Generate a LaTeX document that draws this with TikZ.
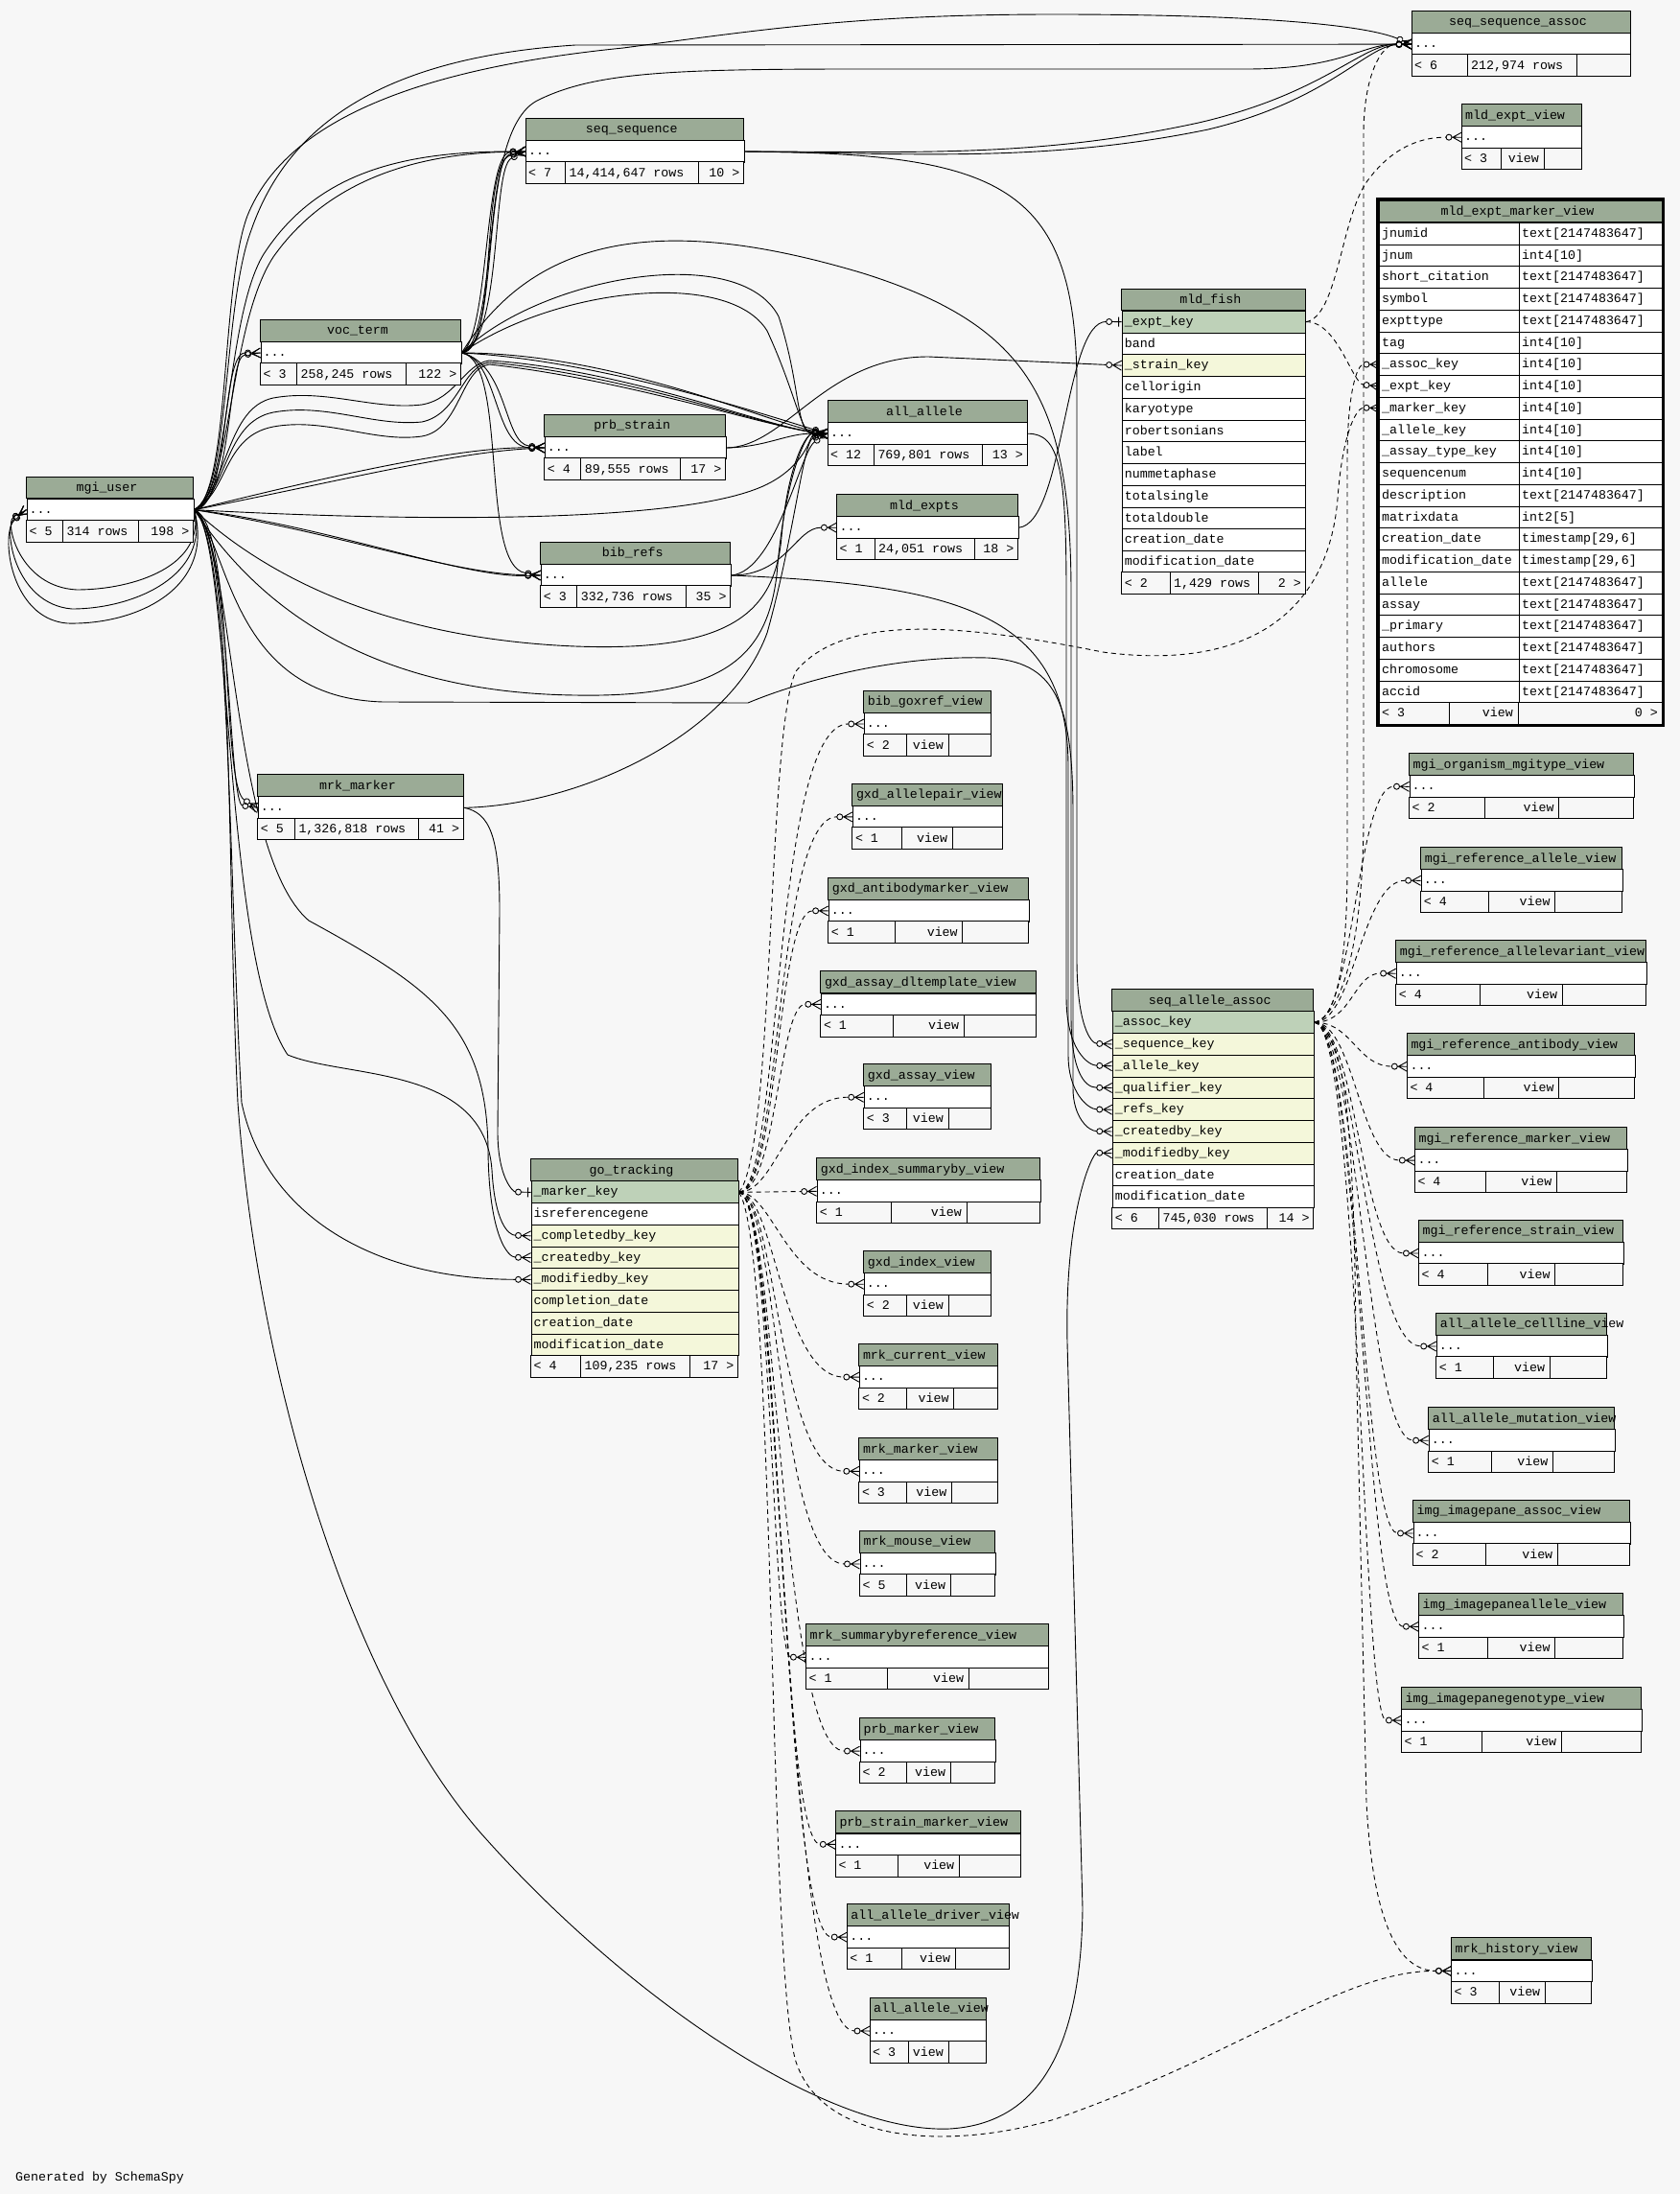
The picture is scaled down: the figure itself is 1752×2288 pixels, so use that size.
\documentclass[tikz,border=0pt]{standalone}
\usepackage{fontspec}
\setmainfont{Liberation Mono}
\usepackage{tikz}

\definecolor{bgcol}{HTML}{F7F7F7}
\definecolor{hdrcol}{HTML}{9BAB96}
\definecolor{pkcol}{HTML}{BED1B8}
\definecolor{fkcol}{HTML}{F4F7DA}

\pgfdeclarelayer{back}
\pgfdeclarelayer{wires}
\pgfsetlayers{back,wires,main}

% crow's foot with a ring (zero or many)
\pgfdeclarearrow{
  name = crowo,
  setup code = {
    \pgfarrowssettipend{0pt}
    \pgfarrowssetlineend{-16pt}
    \pgfarrowssetbackend{-16.5pt}
    \pgfarrowshullpoint{0pt}{5pt}
    \pgfarrowshullpoint{0pt}{-5pt}
    \pgfarrowshullpoint{-16.5pt}{0pt}
  },
  drawing code = {
    \pgfsetdash{}{0pt}
    \pgfpathmoveto{\pgfqpoint{-9pt}{0pt}}
    \pgfpathlineto{\pgfqpoint{0pt}{5pt}}
    \pgfpathmoveto{\pgfqpoint{-9pt}{0pt}}
    \pgfpathlineto{\pgfqpoint{0pt}{-5pt}}
    \pgfpathmoveto{\pgfqpoint{-10pt}{0pt}}
    \pgfpathlineto{\pgfqpoint{0pt}{0pt}}
    \pgfpathcircle{\pgfqpoint{-13pt}{0pt}}{3pt}
    \pgfusepathqstroke
  }
}
% bar with a ring (zero or one)
\pgfdeclarearrow{
  name = baro,
  setup code = {
    \pgfarrowssettipend{0pt}
    \pgfarrowssetlineend{-16pt}
    \pgfarrowssetbackend{-16.5pt}
    \pgfarrowshullpoint{0pt}{5pt}
    \pgfarrowshullpoint{0pt}{-5pt}
    \pgfarrowshullpoint{-16.5pt}{0pt}
  },
  drawing code = {
    \pgfsetdash{}{0pt}
    \pgfpathmoveto{\pgfqpoint{-10pt}{0pt}}
    \pgfpathlineto{\pgfqpoint{0pt}{0pt}}
    \pgfpathmoveto{\pgfqpoint{-3pt}{5pt}}
    \pgfpathlineto{\pgfqpoint{-3pt}{-5pt}}
    \pgfpathcircle{\pgfqpoint{-13pt}{0pt}}{3pt}
    \pgfusepathqstroke
  }
}

% table pieces (x1, x2, top in pixels)
\newcommand{\tblhead}[4]{%
  \draw[hdrbox] (#1,#3) rectangle (#2,#3+22.75);
  \node[txt, anchor=base] at ({(#1+#2)/2-3},#3+15.5) {#4};}
\newcommand{\viewhead}[4]{%
  \draw[hdrbox] (#1,#3) rectangle (#2,#3+22.75);
  \node[txt, anchor=base west] at (#1+4,#3+15.5) {#4};}
\newcommand{\tblrow}[6]{%
  \node[cell, #5, minimum width={#3-#2}] (#1) at (#2,#4) {};
  \node[txt, anchor=base west] at (#2+3,#4+15.5) {#6};}
\newcommand{\tblfoot}[8]{%
  \draw[footbox] (#1,#5) rectangle (#2,#5+22.75) (#2,#5) rectangle (#3,#5+22.75) (#3,#5) rectangle (#4,#5+22.75);
  \node[txt, anchor=base west] at (#1+3,#5+15.5) {#6};
  \node[txt, anchor=base west] at (#2+4,#5+15.5) {#7};
  \node[txt, anchor=base east] at (#4-4,#5+15.5) {#8};}
\newcommand{\viewfoot}[6]{%
  \draw[footbox] (#1,#5) rectangle (#2,#5+22.75) (#2,#5) rectangle (#3,#5+22.75) (#3,#5) rectangle (#4,#5+22.75);
  \node[txt, anchor=base west] at (#1+3,#5+15.5) {< #6};
  \node[txt, anchor=base east] at (#3-5,#5+15.5) {view};}
\newcommand{\viewbox}[8]{%
  \viewhead{#3}{#4}{#5}{#2}
  \tblrow{#1}{#3}{#4}{#5+22.75}{plainrow}{...}
  \viewfoot{#3}{#7}{#8}{#4}{#5+45.5}{#6}}
\newcommand{\mvrow}[4]{%
  \node[cell, plainrow, minimum width=145.6] (#1) at (1438,#2) {};
  \node[cell, plainrow, minimum width=149.4] (#1t) at (1583.6,#2) {};
  \node[txt, anchor=base west] at (1441,#2+15.5) {#3};
  \node[txt, anchor=base west] at (1587,#2+15.5) {#4};}

\begin{document}
\begin{tikzpicture}[x=1pt, y=-1pt, font=\fontsize{13.3}{16}\selectfont,
  hdrbox/.style={draw, fill=hdrcol, line width=1pt},
  footbox/.style={draw, fill=bgcol, line width=1pt},
  cell/.style={draw, line width=1pt, inner sep=0pt, minimum height=22.75pt, anchor=north west},
  plainrow/.style={fill=white},
  pkrow/.style={fill=pkcol},
  fkrow/.style={fill=fkcol},
  txt/.style={inner sep=0pt},
  fk/.style={line width=0.9pt, -crowo},
  one/.style={line width=0.9pt, -baro},
  ik/.style={line width=0.9pt, -crowo, dash pattern=on 5pt off 4pt}]

  \useasboundingbox (0,0) rectangle (1752,2288);
  \begin{pgfonlayer}{back}
    \fill[bgcol] (0,0) rectangle (1752,2288);
  \end{pgfonlayer}

  % Tables

  % seq_sequence_assoc
  \tblhead{1472}{1700}{11.5}{seq\_sequence\_assoc}
  \tblrow{sqas}{1472}{1700}{34.25}{plainrow}{...}
  \tblfoot{1472}{1530}{1644}{1700}{57}{< 6}{212,974 rows}{}

  % mld_expt_view
  \viewbox{mev}{mld\_expt\_view}{1524}{1649}{108.6}{3}{1565.5}{1610}

  % mld_expt_marker_view
  \draw[line width=3pt] (1436.5,207.5) rectangle (1734.5,756.5);
  \tblhead{1438}{1733}{209}{mld\_expt\_marker\_view}
  \mvrow{memv-1}{231.75}{jnumid}{text[2147483647]}
  \mvrow{memv-2}{254.5}{jnum}{int4[10]}
  \mvrow{memv-3}{277.25}{short\_citation}{text[2147483647]}
  \mvrow{memv-4}{300}{symbol}{text[2147483647]}
  \mvrow{memv-5}{322.75}{expttype}{text[2147483647]}
  \mvrow{memv-6}{345.5}{tag}{int4[10]}
  \mvrow{memv-7}{368.25}{\_assoc\_key}{int4[10]}
  \mvrow{memv-8}{391}{\_expt\_key}{int4[10]}
  \mvrow{memv-9}{413.75}{\_marker\_key}{int4[10]}
  \mvrow{memv-10}{436.5}{\_allele\_key}{int4[10]}
  \mvrow{memv-11}{459.25}{\_assay\_type\_key}{int4[10]}
  \mvrow{memv-12}{482}{sequencenum}{int4[10]}
  \mvrow{memv-13}{504.75}{description}{text[2147483647]}
  \mvrow{memv-14}{527.5}{matrixdata}{int2[5]}
  \mvrow{memv-15}{550.25}{creation\_date}{timestamp[29,6]}
  \mvrow{memv-16}{573}{modification\_date}{timestamp[29,6]}
  \mvrow{memv-17}{595.75}{allele}{text[2147483647]}
  \mvrow{memv-18}{618.5}{assay}{text[2147483647]}
  \mvrow{memv-19}{641.25}{\_primary}{text[2147483647]}
  \mvrow{memv-20}{664}{authors}{text[2147483647]}
  \mvrow{memv-21}{686.75}{chromosome}{text[2147483647]}
  \mvrow{memv-22}{709.5}{accid}{text[2147483647]}
  \draw[footbox] (1438,732.25) rectangle (1511.6,755) (1511.6,732.25) rectangle (1583.6,755) (1583.6,732.25) rectangle (1733,755);
  \node[txt, anchor=base west] at (1441,747.75) {< 3};
  \node[txt, anchor=base east] at (1578,747.75) {view};
  \node[txt, anchor=base east] at (1729,747.75) {0 >};

  % seq_sequence
  \tblhead{548}{775.5}{123.4}{seq\_sequence}
  \tblrow{seqs}{548}{775.5}{146.15}{plainrow}{...}
  \tblfoot{548}{589.5}{728.5}{775.5}{168.9}{< 7}{14,414,647 rows}{10 >}

  % voc_term
  \tblhead{271.5}{480.5}{333.4}{voc\_term}
  \tblrow{voct}{271.5}{480.5}{356.15}{plainrow}{...}
  \tblfoot{271.5}{309.4}{423.6}{480.5}{378.9}{< 3}{258,245 rows}{122 >}

  % mld_fish
  \tblhead{1169.6}{1361}{301}{mld\_fish}
  \tblrow{mldf-ek}{1169.6}{1361}{323.75}{pkrow}{\_expt\_key}
  \tblrow{mldf-2}{1169.6}{1361}{346.5}{plainrow}{band}
  \tblrow{mldf-sk}{1169.6}{1361}{369.25}{fkrow}{\_strain\_key}
  \tblrow{mldf-4}{1169.6}{1361}{392}{plainrow}{cellorigin}
  \tblrow{mldf-5}{1169.6}{1361}{414.75}{plainrow}{karyotype}
  \tblrow{mldf-6}{1169.6}{1361}{437.5}{plainrow}{robertsonians}
  \tblrow{mldf-7}{1169.6}{1361}{460.25}{plainrow}{label}
  \tblrow{mldf-8}{1169.6}{1361}{483}{plainrow}{nummetaphase}
  \tblrow{mldf-9}{1169.6}{1361}{505.75}{plainrow}{totalsingle}
  \tblrow{mldf-10}{1169.6}{1361}{528.5}{plainrow}{totaldouble}
  \tblrow{mldf-11}{1169.6}{1361}{551.25}{plainrow}{creation\_date}
  \tblrow{mldf-12}{1169.6}{1361}{574}{plainrow}{modification\_date}
  \tblfoot{1169.6}{1220}{1312.5}{1361}{596.75}{< 2}{1,429 rows}{2 >}

  % prb_strain
  \tblhead{567.7}{756.6}{432.4}{prb\_strain}
  \tblrow{prbs}{567.7}{756.6}{455.15}{plainrow}{...}
  \tblfoot{567.7}{605.6}{709.5}{756.6}{477.9}{< 4}{89,555 rows}{17 >}

  % all_allele
  \tblhead{863}{1071}{417.6}{all\_allele}
  \tblrow{alla}{863}{1071}{440.35}{plainrow}{...}
  \tblfoot{863}{911.3}{1024}{1071}{463.1}{< 12}{769,801 rows}{13 >}

  % mgi_user
  \tblhead{27.5}{201.5}{497}{mgi\_user}
  \tblrow{mgiu}{27.5}{201.5}{519.75}{plainrow}{...}
  \tblfoot{27.5}{65.4}{144.7}{201.5}{542.5}{< 5}{314 rows}{198 >}

  % mld_expts
  \tblhead{872.4}{1061.6}{515.6}{mld\_expts}
  \tblrow{mlde}{872.4}{1061.6}{538.35}{plainrow}{...}
  \tblfoot{872.4}{912}{1016}{1061.6}{561.1}{< 1}{24,051 rows}{18 >}

  % bib_refs
  \tblhead{563.7}{761.8}{565.4}{bib\_refs}
  \tblrow{bibr}{563.7}{761.8}{588.15}{plainrow}{...}
  \tblfoot{563.7}{601.6}{715.8}{761.8}{610.9}{< 3}{332,736 rows}{35 >}

  % mrk_marker
  \tblhead{268.7}{483.3}{807.7}{mrk\_marker}
  \tblrow{mrkm}{268.7}{483.3}{830.45}{plainrow}{...}
  \tblfoot{268.7}{307.3}{436.3}{483.3}{853.2}{< 5}{1,326,818 rows}{41 >}

  % go_tracking
  \tblhead{553.5}{769.6}{1208.7}{go\_tracking}
  \tblrow{gotr-mk}{553.5}{769.6}{1231.45}{pkrow}{\_marker\_key}
  \tblrow{gotr-ir}{553.5}{769.6}{1254.2}{plainrow}{isreferencegene}
  \tblrow{gotr-cb}{553.5}{769.6}{1276.95}{fkrow}{\_completedby\_key}
  \tblrow{gotr-cr}{553.5}{769.6}{1299.7}{fkrow}{\_createdby\_key}
  \tblrow{gotr-mb}{553.5}{769.6}{1322.45}{fkrow}{\_modifiedby\_key}
  \tblrow{gotr-cd}{553.5}{769.6}{1345.2}{fkrow}{completion\_date}
  \tblrow{gotr-rd}{553.5}{769.6}{1367.95}{fkrow}{creation\_date}
  \tblrow{gotr-md}{553.5}{769.6}{1390.7}{fkrow}{modification\_date}
  \tblfoot{553.5}{605.4}{719.8}{769.6}{1413.45}{< 4}{109,235 rows}{17 >}

  % seq_allele_assoc
  \tblhead{1159.7}{1369.7}{1031.6}{seq\_allele\_assoc}
  \tblrow{seqa-ak}{1159.7}{1369.7}{1054.35}{pkrow}{\_assoc\_key}
  \tblrow{seqa-sq}{1159.7}{1369.7}{1077.1}{fkrow}{\_sequence\_key}
  \tblrow{seqa-al}{1159.7}{1369.7}{1099.85}{fkrow}{\_allele\_key}
  \tblrow{seqa-qu}{1159.7}{1369.7}{1122.6}{fkrow}{\_qualifier\_key}
  \tblrow{seqa-rf}{1159.7}{1369.7}{1145.35}{fkrow}{\_refs\_key}
  \tblrow{seqa-cb}{1159.7}{1369.7}{1168.1}{fkrow}{\_createdby\_key}
  \tblrow{seqa-mb}{1159.7}{1369.7}{1190.85}{fkrow}{\_modifiedby\_key}
  \tblrow{seqa-cd}{1159.7}{1369.7}{1213.6}{plainrow}{creation\_date}
  \tblrow{seqa-md}{1159.7}{1369.7}{1236.35}{plainrow}{modification\_date}
  \tblfoot{1159.7}{1208.5}{1321.8}{1369.7}{1259.1}{< 6}{745,030 rows}{14 >}

  % Views next to go_tracking

  \viewbox{bibx}{bib\_goxref\_view}{900.7}{1033.3}{720.4}{2}{945}{989}
  \viewbox{gxap}{gxd\_allelepair\_view}{888.8}{1045.3}{817.3}{1}{940.7}{993.3}
  \viewbox{gxab}{gxd\_antibodymarker\_view}{863.6}{1072.6}{915.3}{1}{933.7}{1003.9}
  \viewbox{gxdt}{gxd\_assay\_dltemplate\_view}{855.8}{1080.3}{1012.8}{1}{931.6}{1005.3}
  \viewbox{gxas}{gxd\_assay\_view}{900.7}{1033.3}{1109.7}{3}{945}{989}
  \viewbox{gxis}{gxd\_index\_summaryby\_view}{851.6}{1084.5}{1207.7}{1}{929.5}{1008}
  \viewbox{gxix}{gxd\_index\_view}{900.7}{1033.3}{1304.6}{2}{945}{989}
  \viewbox{mrkc}{mrk\_current\_view}{895.8}{1040.3}{1401.5}{2}{945}{994.7}
  \viewbox{mrkv}{mrk\_marker\_view}{895.8}{1040.3}{1499.7}{3}{945}{992.6}
  \viewbox{mrko}{mrk\_mouse\_view}{896.5}{1037.5}{1596.4}{5}{945}{991.2}
  \viewbox{mrks}{mrk\_summarybyreference\_view}{840.4}{1093}{1693.7}{1}{925.3}{1010.2}
  \viewbox{prbm}{prb\_marker\_view}{896.5}{1037.5}{1791.5}{2}{945}{991.2}
  \viewbox{prsm}{prb\_strain\_marker\_view}{871.3}{1064.2}{1888.8}{1}{936.5}{1000.4}
  \viewbox{aadv}{all\_allele\_driver\_view}{883.2}{1052.3}{1985.5}{1}{940}{996.2}
  \viewbox{aav}{all\_allele\_view}{907}{1028.4}{2083.4}{3}{947}{989}

  % Views next to seq_allele_assoc

  \viewbox{mgio}{mgi\_organism\_mgitype\_view}{1469.5}{1703.6}{785.7}{2}{1548.3}{1625.7}
  \viewbox{mgra}{mgi\_reference\_allele\_view}{1481.6}{1691.6}{883.7}{4}{1552.8}{1621.7}
  \viewbox{mgrv}{mgi\_reference\_allelevariant\_view}{1455.6}{1716.6}{980.6}{4}{1543.4}{1629.3}
  \viewbox{mgrb}{mgi\_reference\_antibody\_view}{1467.3}{1704.5}{1077.6}{4}{1547.4}{1625.7}
  \viewbox{mgrm}{mgi\_reference\_marker\_view}{1475.3}{1696.5}{1175.5}{4}{1549.6}{1623.5}
  \viewbox{mgrs}{mgi\_reference\_strain\_view}{1479.4}{1692.5}{1272.4}{4}{1551.4}{1621.7}
  \viewbox{aacl}{all\_allele\_cellline\_view}{1497.7}{1675.5}{1369.4}{1}{1557.3}{1616.3}
  \viewbox{aamu}{all\_allele\_mutation\_view}{1489.6}{1683.5}{1467.6}{1}{1555.5}{1619.5}
  \viewbox{imas}{img\_imagepane\_assoc\_view}{1473.5}{1699.6}{1564.4}{2}{1549.6}{1624.4}
  \viewbox{imal}{img\_imagepaneallele\_view}{1479.4}{1692.5}{1661.7}{1}{1551.4}{1621.7}
  \viewbox{imgt}{img\_imagepanegenotype\_view}{1461.4}{1711.7}{1759.5}{1}{1545.6}{1628.4}
  \viewbox{mrkh}{mrk\_history\_view}{1513.4}{1659.8}{2020.8}{3}{1563.5}{1611.4}

  \node[txt, anchor=base west] (gen) at (16,2274) {Generated by SchemaSpy};

  \begin{pgfonlayer}{wires}

  % mgi_user to itself
  \draw[fk] (mgiu.east) .. controls (215,590) and (140,615) .. (80,615) .. controls (20,612) and (5,545) .. (mgiu.west);
  \draw[fk] (mgiu.east) .. controls (220,600) and (140,635) .. (75,635) .. controls (15,630) and (3,550) .. (mgiu.west);
  \draw[fk] (mgiu.east) .. controls (225,615) and (140,652) .. (70,650) .. controls (10,645) and (0,555) .. (mgiu.west);

  % mgi_user to the tables above
  \draw[fk] (mgiu.east) .. controls (240,531) and (230,368) .. (voct.west);
  \draw[fk] (mgiu.east) .. controls (245,520) and (236,372) .. (voct.west);
  \draw[fk] (mgiu.east) .. controls (240,520) and (235,330) .. (275,265) .. controls (330,180) and (420,158) .. (seqs.west);
  \draw[fk] (mgiu.east) .. controls (242,515) and (238,340) .. (285,268) .. controls (340,190) and (430,160) .. (seqs.west);
  \draw[fk] (mgiu.east) .. controls (240,515) and (232,320) .. (262,240) .. controls (300,130) and (400,60) .. (600,47) -- (sqas.west);
  \draw[fk] (mgiu.east) .. controls (240,515) and (230,300) .. (258,225) .. controls (300,120) and (450,70) .. (650,50) .. controls (800,30) and (900,15) .. (1100,15) .. controls (1300,15) and (1420,25) .. (sqas.west);
  \draw[fk] (mgiu.east) .. controls (340,505) and (470,472) .. (prbs.west);
  \draw[fk] (mgiu.east) .. controls (350,495) and (480,466) .. (prbs.west);
  \draw[fk] (mgiu.east) .. controls (350,555) and (470,598) .. (bibr.west);
  \draw[fk] (mgiu.east) .. controls (340,548) and (480,602) .. (bibr.west);

  % mgi_user to all_allele
  \draw[fk] (mgiu.east) .. controls (238,515) and (232,455) .. (285,445) .. controls (340,435) and (390,462) .. (440,455) .. controls (480,448) and (480,385) .. (510,380) .. controls (650,395) and (800,445) .. (alla.west);
  \draw[fk] (mgiu.east) .. controls (238,512) and (234,440) .. (285,430) .. controls (340,420) and (390,445) .. (440,440) .. controls (478,432) and (482,382) .. (510,378) .. controls (650,390) and (800,445) .. (alla.west);
  \draw[fk] (mgiu.east) .. controls (238,508) and (236,425) .. (285,415) .. controls (340,405) and (390,428) .. (440,422) .. controls (475,416) and (484,380) .. (510,376) .. controls (650,385) and (800,445) .. (alla.west);
  \draw[fk] (mgiu.east) .. controls (450,545) and (720,545) .. (800,505) .. controls (840,485) and (845,455) .. (alla.west);
  \draw[fk] (mgiu.east) .. controls (260,585) and (380,665) .. (600,674) .. controls (760,680) and (808,640) .. (815,560) .. controls (822,480) and (842,452) .. (alla.west);
  \draw[fk] (mgiu.east) .. controls (255,610) and (360,722) .. (600,725) .. controls (760,728) and (800,680) .. (810,600) .. controls (818,500) and (840,452) .. (alla.west);

  % mgi_user to the tables below
  \draw[fk] (mgiu.east) .. controls (245,545) and (230,820) .. (mrkm.west);
  \draw[fk] (mgiu.east) .. controls (240,550) and (238,838) .. (mrkm.west);
  \draw[fk] (mgiu.east) .. controls (242,560) and (232,1000) .. (300,1100) .. controls (360,1125) and (505,1110) .. (513,1220) .. controls (516,1275) and (530,1288) .. (gotr-cb.west);
  \draw[fk] (mgiu.east) .. controls (244,560) and (240,890) .. (322,960) .. controls (450,1030) and (508,1070) .. (509,1200) .. controls (510,1290) and (530,1311) .. (gotr-cr.west);
  \draw[fk] (mgiu.east) .. controls (240,560) and (238,900) .. (252,1150) .. controls (275,1260) and (380,1334) .. (gotr-mb.west);
  \draw[fk] (mgiu.east) .. controls (240,570) and (240,728) .. (400,732) -- (780,733) .. controls (830,712) and (930,683) .. (1030,686) .. controls (1100,690) and (1119,730) .. (1119,850) -- (1119,1135) .. controls (1119,1165) and (1135,1179.5) .. (seqa-cb.west);
  \draw[fk] (mgiu.east) .. controls (245,560) and (236,900) .. (248,1150) .. controls (270,1450) and (370,1760) .. (500,1910) .. controls (650,2080) and (860,2225) .. (990,2220) .. controls (1075,2215) and (1127,2150) .. (1129,1990) -- (1113,1400) .. controls (1110,1260) and (1140,1202) .. (seqa-mb.west);

  % voc_term
  \draw[fk] (voct.east) .. controls (525,360) and (495,140) .. (560,105) .. controls (620,75) and (700,72) .. (900,72) -- (1300,72) .. controls (1400,72) and (1420,46) .. (sqas.west);
  \draw[fk] (voct.east) .. controls (520,367) and (500,170) .. (seqs.west);
  \draw[fk] (voct.east) .. controls (515,360) and (508,165) .. (seqs.west);
  \draw[fk] (voct.east) .. controls (525,355) and (512,175) .. (seqs.west);
  \draw[fk] (voct.east) .. controls (510,350) and (505,160) .. (seqs.west);
  \draw[fk] (voct.east) .. controls (520,375) and (515,466) .. (prbs.west);
  \draw[fk] (voct.east) .. controls (530,380) and (525,462) .. (prbs.west);
  \draw[fk] (voct.east) .. controls (530,375) and (500,590) .. (bibr.west);
  \draw[fk] (voct.east) .. controls (560,290) and (770,250) .. (812,330) .. controls (835,400) and (830,452) .. (alla.west);
  \draw[fk] (voct.east) .. controls (580,300) and (760,280) .. (800,345) .. controls (830,410) and (835,452) .. (alla.west);
  \draw[fk] (voct.east) .. controls (620,375) and (790,430) .. (alla.west);
  \draw[fk] (voct.east) .. controls (640,368) and (800,440) .. (alla.west);
  \draw[fk] (voct.east) .. controls (560,240) and (700,225) .. (900,285) .. controls (1075,340) and (1117,420) .. (1117,620) -- (1117,1060) .. controls (1117,1115) and (1130,1134) .. (seqa-qu.west);

  % mrk_marker
  \draw[one] (mrkm.east) .. controls (510,848) and (521,870) .. (521,950) -- (519,1180) .. controls (519,1228) and (535,1243) .. (gotr-mk.west);
  \draw[fk] (mrkm.east) .. controls (600,840) and (760,770) .. (800,660) .. controls (828,560) and (838,460) .. (alla.west);

  % seq_sequence
  \draw[fk] (seqs.east) .. controls (950,158) and (1080,165) .. (1250,128) .. controls (1380,98) and (1420,46) .. (sqas.west);
  \draw[fk] (seqs.east) .. controls (950,160) and (1090,170) .. (1260,135) .. controls (1385,105) and (1425,48) .. (sqas.west);
  \draw[fk] (seqs.east) .. controls (1040,160) and (1122,190) .. (1123,400) -- (1123,1000) .. controls (1123,1070) and (1138,1088) .. (seqa-sq.west);

  % prb_strain, bib_refs, mld_expts, all_allele
  \draw[fk] (prbs.east) .. controls (800,466) and (820,452) .. (alla.west);
  \draw[fk] (prbs.east) .. controls (820,466) and (860,372) .. (968,372) -- (mldf-sk.west);
  \draw[fk] (bibr.east) .. controls (810,595) and (835,470) .. (alla.west);
  \draw[fk] (bibr.east) .. controls (820,600) and (830,550) .. (mlde.west);
  \draw[fk] (bibr.east) .. controls (1000,610) and (1114,640) .. (1114,800) -- (1114,1100) .. controls (1114,1140) and (1135,1156.7) .. (seqa-rf.west);
  \draw[one] (mlde.east) .. controls (1110,545) and (1110,335) .. (mldf-ek.west);
  \draw[fk] (alla.east) .. controls (1105,452) and (1112,490) .. (1112,620) -- (1112,1040) .. controls (1112,1095) and (1135,1111) .. (seqa-al.west);

  % mld_fish to the views
  \draw[ik] (mldf-ek.east) .. controls (1395,335) and (1410,400) .. (memv-8.west);
  \draw[ik] (mldf-ek.east) .. controls (1395,330) and (1398,230) .. (1425,190) .. controls (1450,155) and (1480,143) .. (mev.west);

  % seq_allele_assoc to the views
  \draw[ik] (seqa-ak.east) .. controls (1395,1062) and (1405,1000) .. (1405,900) -- (1405,480) .. controls (1405,410) and (1415,380) .. (memv-7.west);
  \draw[ik] (seqa-ak.east) .. controls (1400,1058) and (1422,980) .. (1422,850) -- (1422,140) .. controls (1422,80) and (1440,46) .. (sqas.west);
  \draw[ik] (seqa-ak.east) .. controls (1400,1075) and (1412,1150) .. (1414,1400) -- (1425,1880) .. controls (1432,2010) and (1460,2055) .. (mrkh.west);
  \draw[ik] (seqa-ak.east) .. controls (1412,1066) and (1415,819.8) .. (mgio.west);
  \draw[ik] (seqa-ak.east) .. controls (1412,1066) and (1420,917.8) .. (mgra.west);
  \draw[ik] (seqa-ak.east) .. controls (1410,1066) and (1412,1014.7) .. (mgrv.west);
  \draw[ik] (seqa-ak.east) .. controls (1410,1066) and (1415,1111.7) .. (mgrb.west);
  \draw[ik] (seqa-ak.east) .. controls (1412,1066) and (1418,1209.6) .. (mgrm.west);
  \draw[ik] (seqa-ak.east) .. controls (1414,1066) and (1420,1306.5) .. (mgrs.west);
  \draw[ik] (seqa-ak.east) .. controls (1415,1066) and (1425,1403.5) .. (aacl.west);
  \draw[ik] (seqa-ak.east) .. controls (1416,1066) and (1425,1501.7) .. (aamu.west);
  \draw[ik] (seqa-ak.east) .. controls (1416,1066) and (1420,1598.5) .. (imas.west);
  \draw[ik] (seqa-ak.east) .. controls (1418,1066) and (1422,1695.8) .. (imal.west);
  \draw[ik] (seqa-ak.east) .. controls (1418,1066) and (1420,1793.6) .. (imgt.west);

  % go_tracking to the views
  \draw[ik] (gotr-mk.east) .. controls (808,1200) and (800,760) .. (830,700) .. controls (880,640) and (1000,650) .. (1150,680) .. controls (1300,700) and (1385,640) .. (1395,520) .. controls (1400,450) and (1415,425) .. (memv-9.west);
  \draw[ik] (gotr-mk.east) .. controls (810,1300) and (800,2050) .. (830,2150) .. controls (860,2240) and (1000,2240) .. (1100,2210) .. controls (1300,2140) and (1400,2055) .. (mrkh.west);
  \draw[ik] (gotr-mk.east) .. controls (815,1243) and (805,754.5) .. (bibx.west);
  \draw[ik] (gotr-mk.east) .. controls (815,1243) and (808,851.4) .. (gxap.west);
  \draw[ik] (gotr-mk.east) .. controls (812,1243) and (810,949.4) .. (gxab.west);
  \draw[ik] (gotr-mk.east) .. controls (810,1243) and (812,1046.9) .. (gxdt.west);
  \draw[ik] (gotr-mk.east) .. controls (810,1243) and (820,1143.8) .. (gxas.west);
  \draw[ik] (gotr-mk.east) -- (gxis.west);
  \draw[ik] (gotr-mk.east) .. controls (805,1243) and (820,1338.7) .. (gxix.west);
  \draw[ik] (gotr-mk.east) .. controls (808,1243) and (815,1435.6) .. (mrkc.west);
  \draw[ik] (gotr-mk.east) .. controls (810,1243) and (812,1533.8) .. (mrkv.west);
  \draw[ik] (gotr-mk.east) .. controls (812,1243) and (810,1630.5) .. (mrko.west);
  \draw[ik] (gotr-mk.east) .. controls (805,1243) and (805,1727.8) .. (mrks.west);
  \draw[ik] (gotr-mk.east) .. controls (812,1243) and (812,1825.6) .. (prbm.west);
  \draw[ik] (gotr-mk.east) .. controls (814,1243) and (812,1922.9) .. (prsm.west);
  \draw[ik] (gotr-mk.east) .. controls (815,1243) and (815,2019.6) .. (aadv.west);
  \draw[ik] (gotr-mk.east) .. controls (816,1243) and (815,2117.5) .. (aav.west);

  \end{pgfonlayer}
\end{tikzpicture}
\end{document}
